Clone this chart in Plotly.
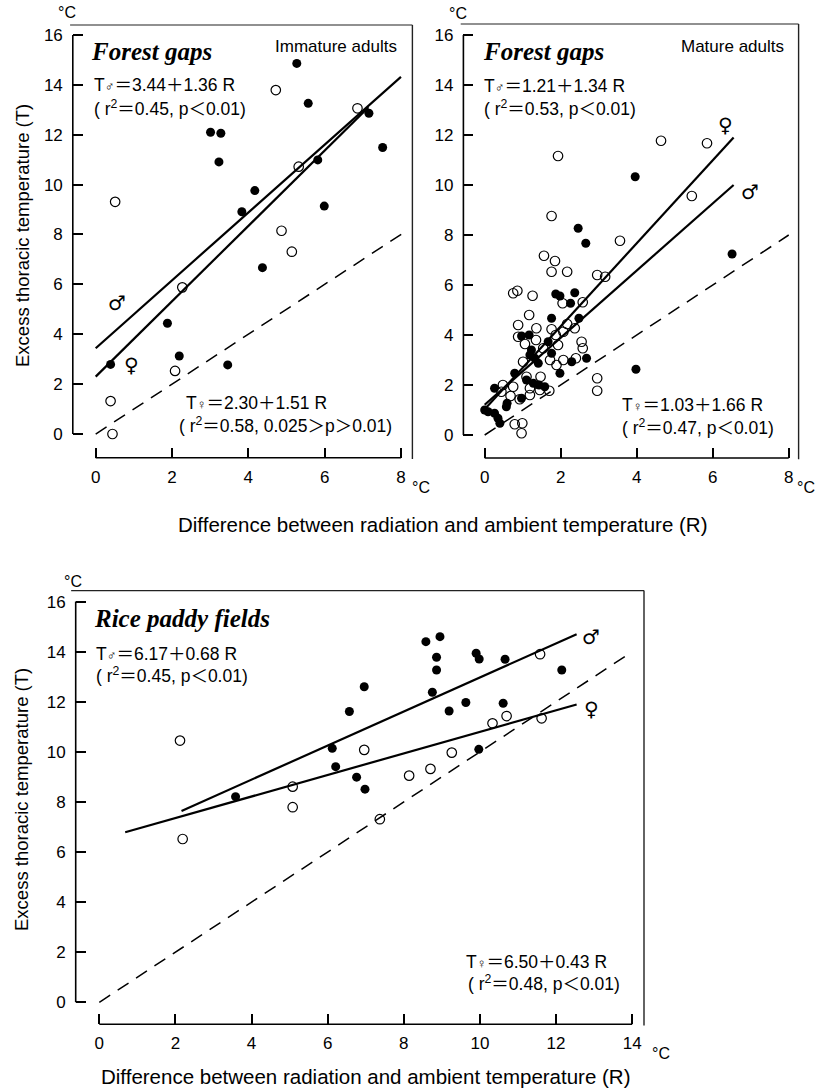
import plotly.graph_objects as go

W, H = 819, 1089

# ---------------- data ----------------
# Panel 1: Forest gaps, immature adults
p1_filled_x = [5.27, 5.57, 3.01, 3.28, 3.23, 4.17, 3.83, 5.82, 5.99, 7.16, 7.52, 4.37, 1.88, 2.19, 3.46, 0.39]
p1_filled_y = [14.86, 13.26, 12.10, 12.06, 10.91, 9.76, 8.91, 10.99, 9.14, 12.86, 11.49, 6.67, 4.44, 3.13, 2.77, 2.79]
p1_open_x = [4.72, 6.86, 5.32, 0.51, 4.87, 5.14, 2.27, 2.08, 0.39, 0.44]
p1_open_y = [13.79, 13.06, 10.72, 9.31, 8.15, 7.31, 5.88, 2.53, 1.32, 0.0]
p1_male_line_x = [0.0, 8.0]
p1_male_line_y = [3.44, 14.32]
p1_female_line_x = [0.0, 7.15]
p1_female_line_y = [2.30, 13.10]
p1_equal_x = [0.0, 8.15]
p1_equal_y = [0.0, 8.15]

# Panel 2: Forest gaps, mature adults
p2_filled_x = [3.96, 2.46, 2.66, 6.51, 3.98,
               1.87, 1.98, 2.37, 2.26, 2.48, 1.76, 1.17, 0.97, 1.67, 1.23, 1.19, 1.32, 1.76,
               2.68, 2.29, 1.98, 0.79, 1.10, 1.28, 1.43, 1.58, 0.26, 0.97, 0.59, 0.57, 0.0,
               0.09, 0.26, 0.35, 0.40, 1.41]
p2_filled_y = [10.33, 8.27, 7.67, 7.24, 2.63,
               5.64, 5.56, 5.69, 5.27, 4.67, 4.67, 4.00, 3.96, 3.73, 3.40, 3.20, 3.07, 3.27,
               3.07, 2.93, 2.47, 2.47, 2.20, 2.07, 2.00, 1.93, 1.87, 1.47, 1.27, 1.13, 1.00,
               0.93, 0.87, 0.67, 0.47, 2.87]
p2_open_x = [1.93, 4.64, 5.85, 5.45, 1.76, 3.56, 1.56, 1.85,
             1.76, 2.17, 2.96, 3.17, 0.75, 0.86, 1.26, 2.05, 2.58, 1.17, 0.88, 1.36,
             1.76, 2.17, 2.37, 0.88, 1.06, 1.35, 1.87, 2.07, 2.55, 2.58, 1.93, 1.72,
             2.07, 2.40, 1.89, 1.01, 0.48, 0.75, 1.10, 1.47, 1.19, 1.19, 1.45, 1.70,
             0.68, 0.92, 2.96, 2.96, 0.79, 0.99, 0.97, 1.54, 0.44]
p2_open_y = [11.16, 11.77, 11.67, 9.56, 8.76, 7.77, 7.17, 6.96,
             6.53, 6.53, 6.40, 6.33, 5.67, 5.77, 5.57, 5.27, 5.31, 4.80, 4.40, 4.27,
             4.23, 4.44, 4.27, 3.93, 3.64, 3.80, 4.00, 4.13, 3.73, 3.47, 3.60, 3.00,
             3.00, 3.07, 2.80, 2.93, 2.00, 1.93, 2.33, 2.33, 1.87, 1.60, 1.80, 1.77,
             1.56, 1.43, 2.27, 1.77, 0.43, 0.47, 0.07, 3.47, 1.73]
p2_male_line_x = [0.0, 6.55]
p2_male_line_y = [1.21, 10.0]
p2_female_line_x = [0.0, 6.55]
p2_female_line_y = [1.03, 11.9]
p2_equal_x = [0.0, 8.0]
p2_equal_y = [0.0, 8.0]

# Panel 3: Rice paddy fields
p3_filled_x = [3.58, 6.96, 6.57, 6.12, 6.21, 6.76, 6.98, 8.58, 8.95, 8.86, 8.86, 8.75,
               9.90, 9.98, 10.66, 12.15, 9.63, 9.19, 10.61, 9.97]
p3_filled_y = [8.21, 12.60, 11.61, 10.14, 9.41, 8.99, 8.51, 14.40, 14.60, 13.78, 13.27, 12.38,
               13.94, 13.71, 13.70, 13.27, 11.97, 11.63, 11.94, 10.10]
p3_open_x = [2.12, 2.19, 5.08, 5.08, 6.96, 11.58, 10.33, 10.70, 11.62, 9.26, 8.70, 8.14, 7.37]
p3_open_y = [10.45, 6.52, 8.61, 7.79, 10.08, 13.90, 11.14, 11.43, 11.34, 9.97, 9.32, 9.05, 7.31]
p3_male_line_x = [2.16, 12.54]
p3_male_line_y = [7.64, 14.70]
p3_female_line_x = [0.68, 12.54]
p3_female_line_y = [6.79, 11.89]
p3_equal_x = [0.0, 13.9]
p3_equal_y = [0.0, 13.9]

y_ticks = [0, 2, 4, 6, 8, 10, 12, 14, 16]
x_ticks_forest = [0, 2, 4, 6, 8]
x_ticks_rice = [0, 2, 4, 6, 8, 10, 12, 14]

# ---------------- styling ----------------
SANS = "Liberation Sans, Arial, Noto Sans CJK JP, DejaVu Sans, sans-serif"
SERIF = "Liberation Serif, Times New Roman, serif"
SYM = "DejaVu Sans, sans-serif"

fig = go.Figure()

panels = [
    dict(n="", xrange=[-0.6, 8.3], xpx=[72.8, 412.4], yrange=[-0.95, 16.4], ypx=[25.0, 457.7],
         xmax=8, xticks=x_ticks_forest,
         fx=p1_filled_x, fy=p1_filled_y, ox=p1_open_x, oy=p1_open_y,
         mlx=p1_male_line_x, mly=p1_male_line_y, flx=p1_female_line_x, fly=p1_female_line_y,
         ex=p1_equal_x, ey=p1_equal_y),
    dict(n="2", xrange=[-0.56, 8.26], xpx=[463.4, 798.6], yrange=[-0.92, 16.44], ypx=[24.0, 458.0],
         xmax=8, xticks=x_ticks_forest,
         fx=p2_filled_x, fy=p2_filled_y, ox=p2_open_x, oy=p2_open_y,
         mlx=p2_male_line_x, mly=p2_male_line_y, flx=p2_female_line_x, fly=p2_female_line_y,
         ex=p2_equal_x, ey=p2_equal_y),
    dict(n="3", xrange=[-0.62, 14.31], xpx=[75.7, 644.0], yrange=[-0.88, 16.44], ypx=[590.6, 1024.3],
         xmax=14, xticks=x_ticks_rice,
         fx=p3_filled_x, fy=p3_filled_y, ox=p3_open_x, oy=p3_open_y,
         mlx=p3_male_line_x, mly=p3_male_line_y, flx=p3_female_line_x, fly=p3_female_line_y,
         ex=p3_equal_x, ey=p3_equal_y),
]

shapes = []
layout_axes = {}
for p in panels:
    n = p["n"]
    xa, ya = "x" + n, "y" + n
    fig.add_trace(go.Scatter(x=p["ex"], y=p["ey"], mode="lines", xaxis=xa, yaxis=ya,
                             line=dict(color="black", width=1.5, dash="13px,9px"), hoverinfo="skip"))
    fig.add_trace(go.Scatter(x=p["mlx"], y=p["mly"], mode="lines", xaxis=xa, yaxis=ya,
                             line=dict(color="black", width=2.2), hoverinfo="skip"))
    fig.add_trace(go.Scatter(x=p["flx"], y=p["fly"], mode="lines", xaxis=xa, yaxis=ya,
                             line=dict(color="black", width=2.2), hoverinfo="skip"))
    fig.add_trace(go.Scatter(x=p["ox"], y=p["oy"], mode="markers", xaxis=xa, yaxis=ya,
                             marker=dict(symbol="circle-open", size=9.5, color="black",
                                         line=dict(width=1.2, color="black"))))
    fig.add_trace(go.Scatter(x=p["fx"], y=p["fy"], mode="markers", xaxis=xa, yaxis=ya,
                             marker=dict(symbol="circle", size=9, color="black",
                                         line=dict(width=0))))
    common = dict(showgrid=False, zeroline=False, showline=False, ticks="inside", ticklen=10,
                  tickwidth=1.6, tickcolor="black", fixedrange=True,
                  tickfont=dict(family=SANS, size=17, color="black"))
    layout_axes["xaxis" + n] = dict(common, domain=[p["xpx"][0] / W, p["xpx"][1] / W],
                                    range=p["xrange"], anchor=ya, tickvals=p["xticks"],
                                    ticklabelstandoff=7)
    layout_axes["yaxis" + n] = dict(common, domain=[1 - p["ypx"][1] / H, 1 - p["ypx"][0] / H],
                                    range=p["yrange"], anchor=xa, tickvals=y_ticks,
                                    ticklabelstandoff=9)
    # offset-style axis lines and frame
    shapes.append(dict(type="line", xref=xa + " domain", yref=ya, x0=0, x1=0, y0=0, y1=16,
                       line=dict(color="black", width=1.6)))
    shapes.append(dict(type="line", xref=xa, yref=ya + " domain", x0=0, x1=p["xmax"], y0=0, y1=0,
                       line=dict(color="black", width=1.6)))
    shapes.append(dict(type="line", xref=xa + " domain", yref=ya + " domain", x0=-0.008, x1=1, y0=1, y1=1,
                       line=dict(color="#222", width=1.2)))
    shapes.append(dict(type="line", xref=xa + " domain", yref=ya + " domain", x0=1, x1=1, y0=-0.003, y1=1,
                       line=dict(color="#222", width=1.4)))

annotations = []


def ann(text, px, py, xanchor="left", size=17, family=SANS, **kw):
    annotations.append(dict(text=text, x=px / W, y=1 - py / H, xref="paper", yref="paper",
                            xanchor=xanchor, yanchor="middle", showarrow=False,
                            font=dict(family=family, size=size, color="black"), **kw))


def dann(text, x, y, xa, ya, size=20):
    annotations.append(dict(text=text, x=x, y=y, xref=xa, yref=ya, showarrow=False,
                            font=dict(family=SYM, size=size, color="black")))


MALE = '<span style="font-size:13px">♂</span>'
FEMALE = '<span style="font-size:13px">♀</span>'
EQ_SIZE = 17.5

# Panel 1 texts
ann("<b><i>Forest gaps</i></b>", 89, 51.7, size=25, family=SERIF)
ann("Immature adults", 399, 46.7, xanchor="right", size=17)
ann("T" + MALE + "＝3.44＋1.36 R", 92, 85, size=EQ_SIZE)
ann("( r<sup>2</sup>＝0.45, p＜0.01)", 92, 108, size=EQ_SIZE)
ann("T" + FEMALE + "＝2.30＋1.51 R", 184, 403, size=EQ_SIZE)
ann("( r<sup>2</sup>＝0.58, 0.025＞p＞0.01)", 177, 425, size=EQ_SIZE)
dann("♂", 0.56, 5.25, "x", "y")
dann("♀", 0.94, 2.77, "x", "y")

# Panel 2 texts
ann("<b><i>Forest gaps</i></b>", 481, 51.7, size=25, family=SERIF)
ann("Mature adults", 786, 46.7, xanchor="right", size=17)
ann("T" + MALE + "＝1.21＋1.34 R", 482, 86, size=EQ_SIZE)
ann("( r<sup>2</sup>＝0.53, p＜0.01)", 482, 108, size=EQ_SIZE)
ann("T" + FEMALE + "＝1.03＋1.66 R", 620, 405, size=EQ_SIZE)
ann("( r<sup>2</sup>＝0.47, p＜0.01)", 620, 426.7, size=EQ_SIZE)
dann("♀", 6.33, 12.4, "x2", "y2")
dann("♂", 6.99, 9.73, "x2", "y2")

# Panel 3 texts
ann("<b><i>Rice paddy fields</i></b>", 92, 618.3, size=25, family=SERIF)
ann("T" + MALE + "＝6.17＋0.68 R", 94, 654, size=EQ_SIZE)
ann("( r<sup>2</sup>＝0.45, p＜0.01)", 94, 675, size=EQ_SIZE)
ann("T" + FEMALE + "＝6.50＋0.43 R", 464, 961.7, size=EQ_SIZE)
ann("( r<sup>2</sup>＝0.48, p＜0.01)", 466, 983, size=EQ_SIZE)
dann("♂", 12.93, 14.6, "x3", "y3")
dann("♀", 12.93, 11.7, "x3", "y3")

# units
for (px, py) in [(66.7, 12), (458, 13), (73.3, 581)]:
    ann("°C", px, py, xanchor="center", size=16)
ann("°C", 421, 488, xanchor="center", size=16)
ann("°C", 817, 488, xanchor="right", size=16)
ann("°C", 661, 1053, xanchor="center", size=16)

# axis titles
XT = "Difference between radiation and ambient temperature (R)"
YT = "Excess thoracic temperature (T)"
ann(XT, 443, 524, xanchor="center", size=20.5)
ann(XT, 366, 1076, xanchor="center", size=20.5)
ann(YT, 22, 236, xanchor="center", size=18.5, textangle=-90)
ann(YT, 22, 800, xanchor="center", size=18.5, textangle=-90)

fig.update_layout(
    width=W, height=H, margin=dict(l=0, r=0, t=0, b=0),
    paper_bgcolor="white", plot_bgcolor="white", showlegend=False,
    shapes=shapes, annotations=annotations, **layout_axes,
)

fig.write_html("out.html", config={"displayModeBar": False},
               post_script="document.body.style.margin='0';document.body.style.padding='0';")
